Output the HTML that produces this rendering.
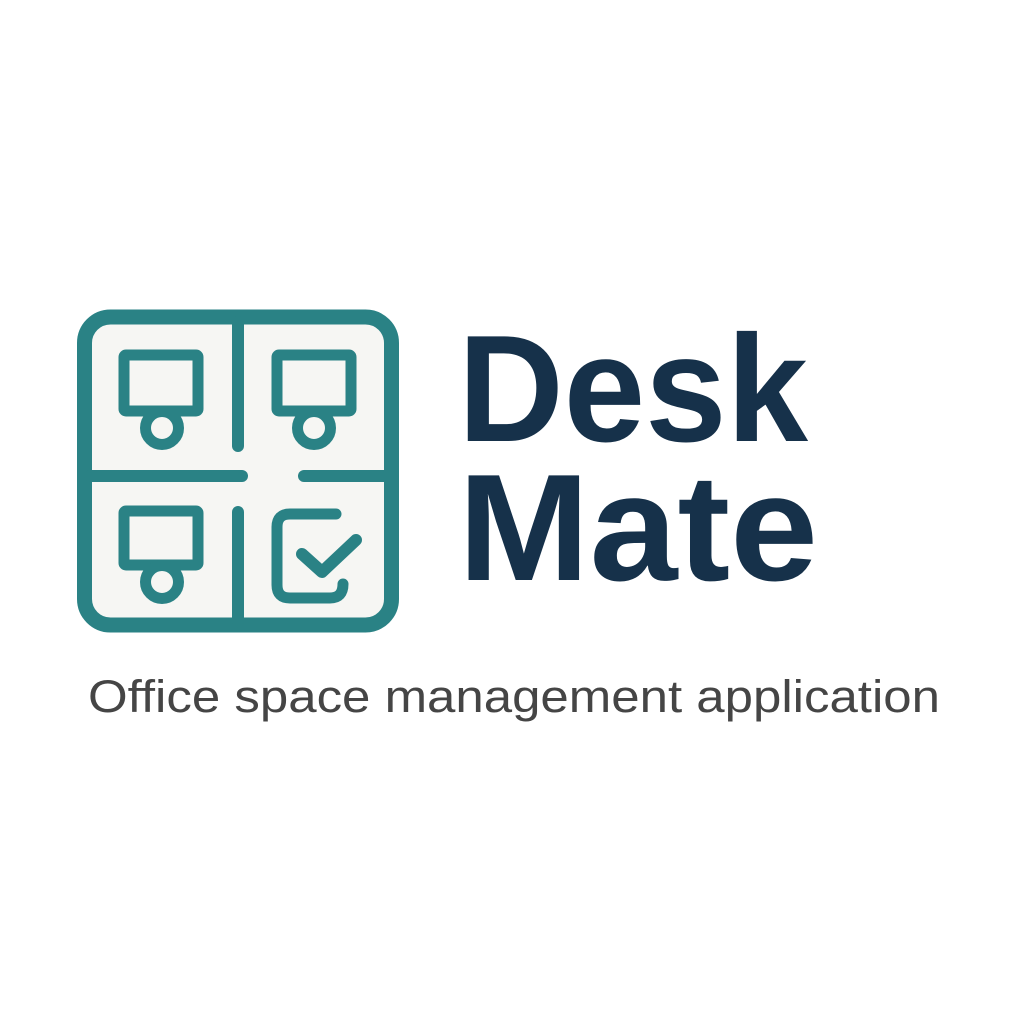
<!DOCTYPE html>
<html><head><style>html,body{margin:0;padding:0;background:#fff;width:1024px;height:1024px;overflow:hidden}</style></head>
<body>
<svg width="1024" height="1024" viewBox="0 0 1024 1024" xmlns="http://www.w3.org/2000/svg">
<rect x="0" y="0" width="1024" height="1024" fill="#fff"/>
<g fill="none" stroke="#2a8285" stroke-linecap="round" stroke-linejoin="round">
<rect x="84.5" y="317" width="307" height="308" rx="26" fill="#f6f6f3" stroke-width="15"/>
<line x1="238" y1="322" x2="238" y2="446" stroke-width="12"/>
<line x1="238" y1="512" x2="238" y2="622" stroke-width="12"/>
<line x1="90" y1="476" x2="242" y2="476" stroke-width="12"/>
<line x1="304" y1="476" x2="388" y2="476" stroke-width="12"/>
<g stroke-width="11">
<rect x="124" y="355" width="74" height="56" rx="2"/>
<circle cx="162" cy="428" r="16.5"/>
<rect x="277" y="355" width="74" height="56" rx="2"/>
<circle cx="314" cy="428" r="16.5"/>
<rect x="124" y="511" width="74" height="54" rx="2"/>
<circle cx="162" cy="582" r="16.5"/>
<path d="M336 514 H290 Q277 514 277 527 V585 Q277 598 290 598 H330 Q343 598 343 584"/>
<path d="M302 554 L322 572 L356 540" stroke-width="12"/>
</g>
</g>
<g font-family="Liberation Sans, sans-serif" fill="#16314a" font-weight="bold">
<text x="458" y="441" font-size="152" textLength="350" lengthAdjust="spacingAndGlyphs">Desk</text>
<text x="458" y="580" font-size="152" textLength="360" lengthAdjust="spacingAndGlyphs">Mate</text>
</g>
<text x="88" y="712" font-family="Liberation Sans, sans-serif" font-size="45" fill="#454545" textLength="852" lengthAdjust="spacingAndGlyphs">Office space management application</text>
</svg>
</body></html>
